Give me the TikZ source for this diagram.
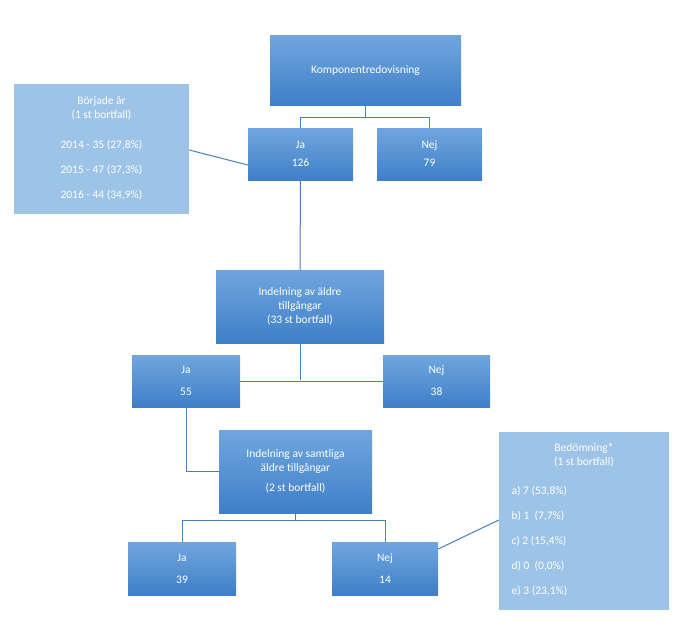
\documentclass[tikz,border=0pt]{standalone}
\usepackage{fontspec}
\setmainfont{Carlito}
\begin{document}
\begin{tikzpicture}[x=1pt,y=-1pt,
 dk/.style={draw=none,top color=blue1,bottom color=blue2,text=white,align=center,inner sep=0pt,font=\fontsize{11.5}{14}\selectfont},
 lt/.style={draw=none,fill=lblue,text=white,inner sep=0pt},
 ln/.style={draw=lineblue,line width=1pt}]
\definecolor{blue1}{HTML}{70A6DE}
\definecolor{blue2}{HTML}{3F7FC8}
\definecolor{lblue}{HTML}{9DC3E6}
\definecolor{lineblue}{HTML}{4A7EBB}
\useasboundingbox (0,0) rectangle (681,622);
\def\bx#1#2#3#4#5#6{\node[dk,minimum width=#4-#2,minimum height=#5-#3] (#1) at ({(#2+#4)/2},{(#3+#5)/2}) {#6};}
\bx{komp}{270}{35}{461}{105}{Komponentredovisning}
\bx{ja1}{248}{128}{353}{180}{Ja\\[4pt]126}
\bx{nej1}{377}{128}{482}{180}{Nej\\[4pt]79}
\bx{ind}{216}{270}{384}{343}{Indelning av äldre\\tillgångar\\(33 st bortfall)}
\bx{ja2}{132}{355}{240}{407}{Ja\\[8pt]55}
\bx{nej2}{383}{355}{490}{407}{Nej\\[8pt]38}
\bx{sam}{219}{430}{372}{513}{Indelning av samtliga\\äldre tillgångar\\[6pt](2 st bortfall)}
\bx{ja3}{128}{542}{236}{595}{Ja\\[8pt]39}
\bx{nej3}{332}{542}{438}{595}{Nej\\[8pt]14}
\node[lt,minimum width=175,minimum height=130] (bor) at (101.5,149) {};
\node[text=white,align=center,font=\fontsize{11.5}{14}\selectfont] at (101.5,108) {Började år\\(1 st bortfall)};
\node[text=white,anchor=west,font=\fontsize{11.5}{14}\selectfont] at (bor.west) [xshift=26,yshift=-3] {};
\foreach \t/\y in {{2014 - 35 (27,8\%)}/145,{2015 - 47 (37,3\%)}/170,{2016 - 44 (34,9\%)}/195}
  \node[text=white,font=\fontsize{11.5}{14}\selectfont] at (101.5,\y) {\t};
\node[lt,minimum width=170,minimum height=178] (bed) at (584,521) {};
\node[text=white,align=center,font=\fontsize{11.5}{14}\selectfont] at (584,455) {Bedömning*\\(1 st bortfall)};
\foreach \t/\y in {{a) 7 (53,8\%)}/491,{b) 1\ \ (7,7\%)}/516,{c) 2 (15,4\%)}/541,{d) 0\ \ (0,0\%)}/566,{e) 3 (23,1\%)}/591}
  \node[text=white,anchor=west,font=\fontsize{11.5}{14}\selectfont] at (508,\y) {\t};
\draw[ln] (komp.south) -- ++(0,12) -| (ja1.north);
\draw[ln] (komp.south) -- ++(0,12) -| (nej1.north);
\draw[ln] (ja1.south) -- (ind.north);
\draw[ln] (ind.south) -- (300,380);
\draw[ln] (ja2.east) -- (nej2.west);
\draw[ln] (ja2.south) |- (sam.west);
\draw[ln] (sam.south) -- ++(0,7) -| (ja3.north);
\draw[ln] (sam.south) -- ++(0,7) -| (nej3.north);
\draw[ln] (bor.east |- 0,150) -- (ja1.west |- 0,165);
\draw[ln] (nej3.east |- 0,549) -- (bed.west |- 0,520);
\end{tikzpicture}
\end{document}
